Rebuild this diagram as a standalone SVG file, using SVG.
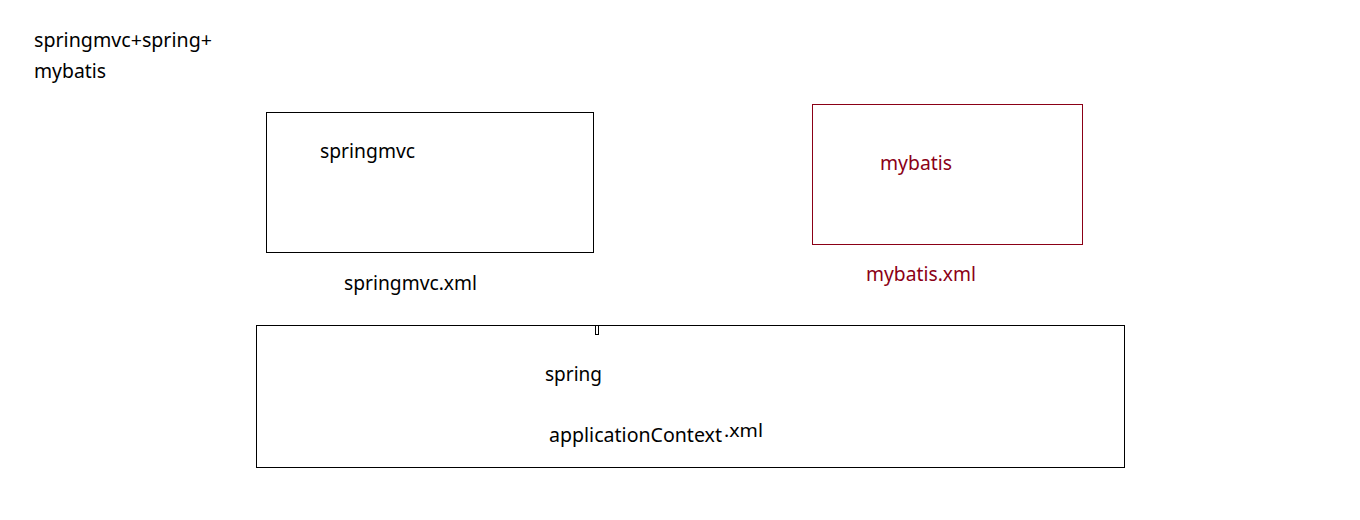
<svg xmlns="http://www.w3.org/2000/svg" width="1360" height="520" viewBox="0 0 1360 520">
<style>
text{font-family:"Noto Sans","Open Sans",sans-serif;font-size:19px;fill:#000}
.red{fill:#8b0016}
.box{fill:none;stroke:#000;stroke-width:1}
.rbox{fill:none;stroke:#8b0016;stroke-width:1}
</style>
<rect width="1360" height="520" fill="#fff"/>
<g id="title">
<text x="34" y="47" textLength="178" lengthAdjust="spacingAndGlyphs">springmvc+spring+</text>
<text x="34" y="78" textLength="72" lengthAdjust="spacingAndGlyphs">mybatis</text>
</g>
<g id="springmvc">
<rect class="box" x="266.5" y="112.5" width="327" height="140"/>
<text x="320" y="158" textLength="95" lengthAdjust="spacingAndGlyphs">springmvc</text>
<text x="344" y="290" textLength="133" lengthAdjust="spacingAndGlyphs">springmvc.xml</text>
</g>
<g id="mybatis">
<rect class="rbox" x="812.5" y="104.5" width="270" height="140"/>
<text class="red" x="880" y="170" textLength="72" lengthAdjust="spacingAndGlyphs">mybatis</text>
<text class="red" x="866" y="281" textLength="110" lengthAdjust="spacingAndGlyphs">mybatis.xml</text>
</g>
<g id="spring">
<rect class="box" x="256.5" y="325.5" width="868" height="142"/>
<rect class="box" x="595.5" y="325.5" width="3" height="9"/>
<text x="545" y="381" textLength="57" lengthAdjust="spacingAndGlyphs">spring</text>
<text x="549" y="442" textLength="173" lengthAdjust="spacingAndGlyphs">applicationContext</text>
<text x="724" y="437" style="font-size:18px" textLength="39" lengthAdjust="spacingAndGlyphs">.xml</text>
</g>
<g id="connectors"></g>
</svg>
